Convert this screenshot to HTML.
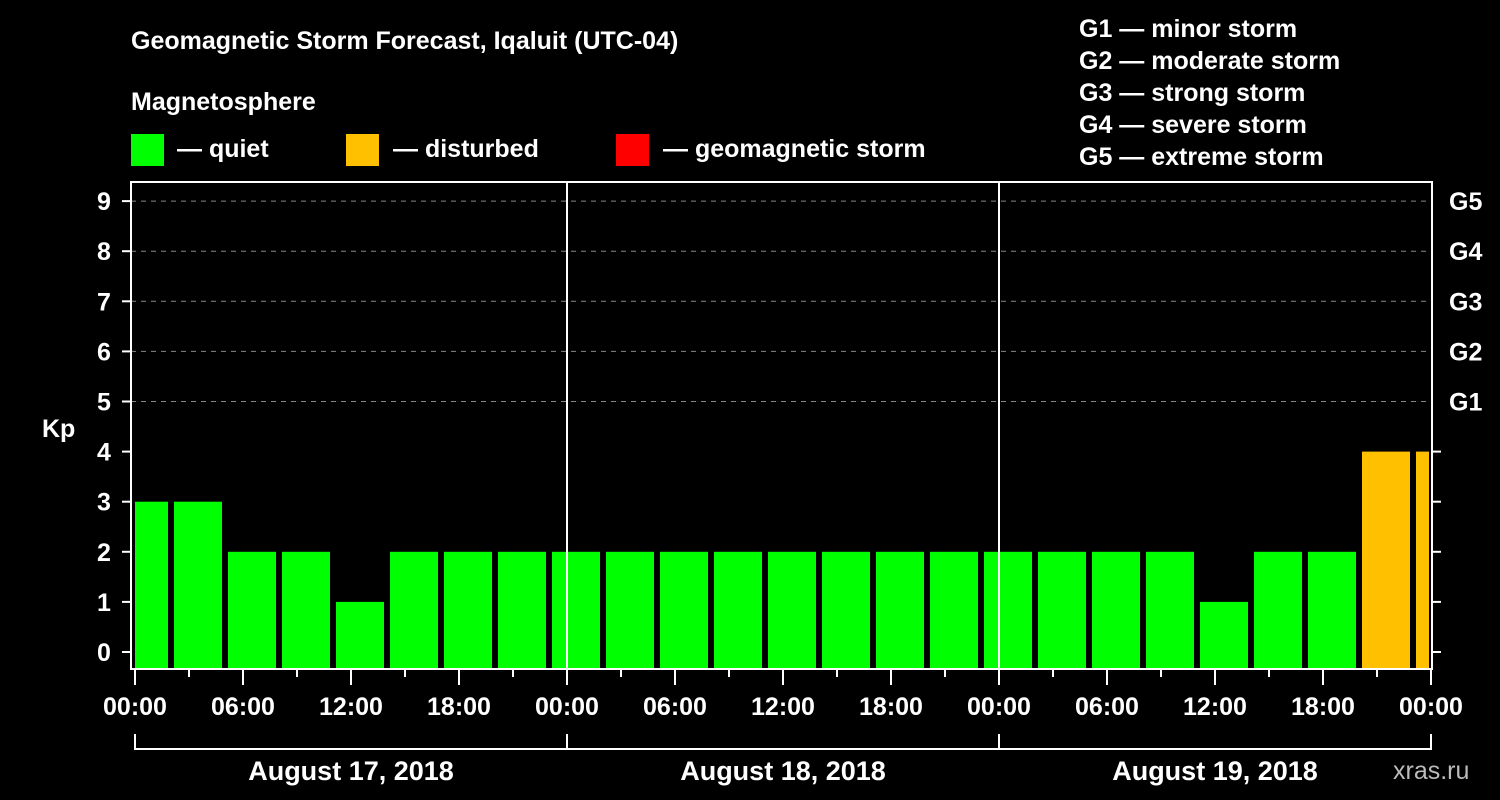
<!DOCTYPE html>
<html><head><meta charset="utf-8"><style>
html,body{margin:0;padding:0;background:#000;}
svg{display:block;font-family:"Liberation Sans",Arial,sans-serif;font-weight:bold;}
</style></head><body>
<svg id="chart" width="1500" height="800" viewBox="0 0 1500 800" xmlns="http://www.w3.org/2000/svg">
<rect width="1500" height="800" fill="#000"/>
<text x="131" y="49" fill="#fff" font-size="25">Geomagnetic Storm Forecast, Iqaluit (UTC-04)</text>
<text x="131" y="110" fill="#fff" font-size="25">Magnetosphere</text>
<g><rect x="131" y="134" width="33" height="32" fill="#00ff00"/><text x="177" y="157" fill="#fff" font-size="25">— quiet</text></g>
<g><rect x="346" y="134" width="33" height="32" fill="#ffc000"/><text x="393" y="157" fill="#fff" font-size="25">— disturbed</text></g>
<g><rect x="616" y="134" width="33" height="32" fill="#ff0000"/><text x="663" y="157" fill="#fff" font-size="25">— geomagnetic storm</text></g>
<g fill="#fff" font-size="25">
<text x="1079" y="37">G1 — minor storm</text>
<text x="1079" y="69">G2 — moderate storm</text>
<text x="1079" y="101">G3 — strong storm</text>
<text x="1079" y="133">G4 — severe storm</text>
<text x="1079" y="165">G5 — extreme storm</text>
</g>
<text x="42" y="437" fill="#fff" font-size="25">Kp</text>
<g id="grid"></g>
<g id="bars"></g>
<g id="axes"></g>
<text x="1393" y="779" fill="#bbb" font-size="25" font-weight="normal">xras.ru</text>
</svg>
<script>
const kpValues=[3,3,2,2,1,2,2,2,2,2,2,2,2,2,2,2,2,2,2,2,1,2,2,4,4];
const barStartHours=[-1,2,5,8,11,14,17,20,23,26,29,32,35,38,41,44,47,50,53,56,59,62,65,68,71];
const yTicks=[0,1,2,3,4,5,6,7,8,9];
const gLabels=["G1","G2","G3","G4","G5"];
const xTickLabels=["00:00","06:00","12:00","18:00","00:00","06:00","12:00","18:00","00:00","06:00","12:00","18:00","00:00"];
const dayLabels=["August 17, 2018","August 18, 2018","August 19, 2018"];
const NS="http://www.w3.org/2000/svg";
const L=131,R=1432,T=182,B=669;
const x0=135, hourPx=18;
function xs(h){return x0+h*hourPx;}
function ys(k){return 652-k*50.1;}
function mk(tag,attrs,parent){const e=document.createElementNS(NS,tag);for(const k in attrs)e.setAttribute(k,attrs[k]);parent.appendChild(e);return e;}
const grid=document.getElementById('grid'),bars=document.getElementById('bars'),axes=document.getElementById('axes');
yTicks.forEach(k=>{
  if(k>=5){const l=mk('line',{x1:L,x2:R,y1:ys(k),y2:ys(k),stroke:'#888','stroke-width':1,'stroke-dasharray':'5,5'},grid);
  
  }
  const t=mk('line',{x1:122,x2:L,y1:ys(k),y2:ys(k),stroke:'#fff','stroke-width':2},axes);
  
  
  const tx=mk('text',{x:104,y:ys(k)+9,fill:'#fff','font-size':25,'text-anchor':'middle'},axes);tx.textContent=k;
  
  
  if(k<5){const rt=mk('line',{x1:R,x2:1441,y1:ys(k),y2:ys(k),stroke:'#fff','stroke-width':2},axes);
  
  }
  else{const gt=mk('text',{x:1449,y:ys(k)+9,fill:'#fff','font-size':25},axes);gt.textContent=gLabels[k-5];
  
  }
});
kpValues.forEach((v,i)=>{
  let a=xs(barStartHours[i])+3,b=xs(barStartHours[i]+3)-3;
  a=Math.max(a,L+4);b=Math.min(b,R-3);
  const color=v>=5?'#ff0000':(v>=4?'#ffc000':'#00ff00');
  const r=mk('rect',{x:a,y:ys(v),width:b-a,height:B-ys(v),fill:color},bars);
  
  
});
[1,2].forEach(d=>{const l=mk('line',{x1:xs(d*24),x2:xs(d*24),y1:T,y2:B,stroke:'#fff','stroke-width':2},axes);
  
  });
const fr=mk('rect',{x:L,y:T,width:R-L,height:B-T,fill:'none',stroke:'#fff','stroke-width':2},axes);


for(let h=0;h<=72;h+=3){const long=h%6===0;
  const t=mk('line',{x1:xs(h),x2:xs(h),y1:B,y2:B+(long?16:8),stroke:'#fff','stroke-width':2},axes);
  
  }
xTickLabels.forEach((s,i)=>{const t=mk('text',{x:xs(i*6),y:715,fill:'#fff','font-size':25,'text-anchor':'middle'},axes);t.textContent=s;
  
  });
const br=mk('path',{d:'M'+xs(0)+' 734V749H'+xs(72)+'V734M'+xs(24)+' 734V749M'+xs(48)+' 734V749',stroke:'#fff','stroke-width':2,fill:'none'},axes);


dayLabels.forEach((s,i)=>{const t=mk('text',{x:xs(i*24+12),y:780,fill:'#fff','font-size':27,'text-anchor':'middle'},axes);t.textContent=s;
  
  });
</script>
</body></html>
